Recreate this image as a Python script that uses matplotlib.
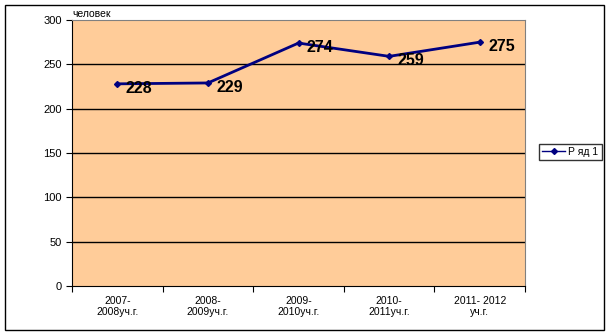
import matplotlib.pyplot as plt
from matplotlib.patches import Rectangle

plt.rcParams['font.family'] = ['Liberation Sans', 'DejaVu Sans']

years = ["2007-\n2008уч.г.", "2008-\n2009уч.г.", "2009-\n2010уч.г.", "2010-\n2011уч.г.", "2011- 2012\nуч.г."]
pupils = [228, 229, 274, 259, 275]
series_name = "Р яд 1"
y_ticks = [0, 50, 100, 150, 200, 250, 300]

W, H = 611, 335
fig = plt.figure(figsize=(W / 100, H / 100), dpi=100)
fig.patch.set_facecolor('white')

# outer frame
fig.add_artist(Rectangle((5 / W, 5 / H), 599 / W, 325 / H, transform=fig.transFigure,
                         fill=False, edgecolor='black', lw=1))

ax = fig.add_axes([72 / W, (H - 286) / H, (525 - 72) / W, (286 - 20) / H])
ax.set_facecolor('#FFCC99')

x = list(range(len(years)))
ax.plot(x, pupils, color='#000080', lw=2, marker='D', ms=3, label=series_name, zorder=3)
for xi, v in zip(x, pupils):
    ax.annotate(str(v), (xi, v), xytext=(6, -3), textcoords='offset points',
                ha='left', va='center', fontsize=11.5, fontweight='bold', color='black')

ax.set_xlim(-0.5, len(years) - 0.5)
ax.set_ylim(0, 300)
ax.set_yticks(y_ticks)
ax.set_xticks([i - 0.5 for i in range(len(years) + 1)], minor=False)
ax.set_xticklabels([])
ax.set_xticks(x, minor=True)
ax.set_xticklabels(years, minor=True, fontsize=7.5)
ax.tick_params(axis='x', which='minor', length=0, pad=7)
ax.tick_params(axis='x', which='major', length=4, direction='out')
ax.tick_params(axis='y', labelsize=8, length=4, direction='out')

for yv in y_ticks[1:-1]:
    ax.axhline(yv, color='black', lw=1, zorder=1)

ax.spines['top'].set_color('#808080')
ax.spines['right'].set_color('#808080')
ax.spines['left'].set_color('black')
ax.spines['bottom'].set_color('black')

fig.text(72 / W, (H - 14) / H, "человек", fontsize=7.5, ha='left', va='center')

leg = ax.legend(loc='center left', bbox_to_anchor=(534 / W, (H - 152) / H),
                bbox_transform=fig.transFigure, fontsize=7.5, frameon=True,
                fancybox=False, edgecolor='black', borderpad=0.3,
                handlelength=2.2, handletextpad=0.3)
leg.get_frame().set_linewidth(1)
for ln in leg.get_lines():
    ln.set_linewidth(1)

fig.savefig('out.png', dpi=100)
